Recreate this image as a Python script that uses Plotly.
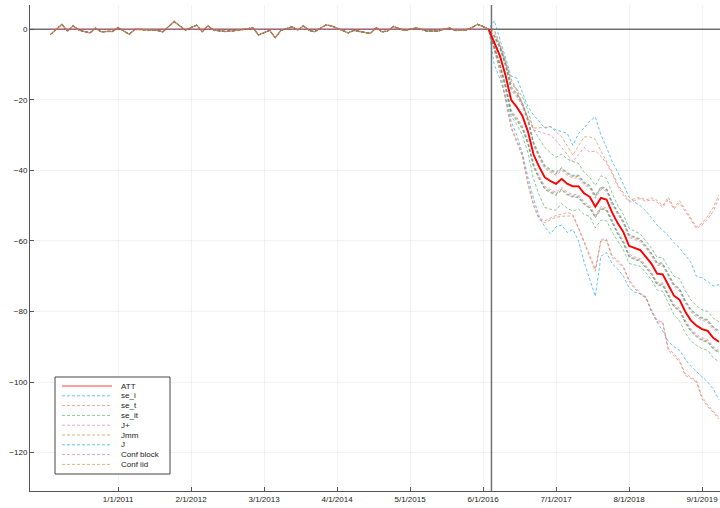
import plotly.graph_objects as go

# ---------------- data ----------------
months = list(range(1, 121))          # monthly periods, Jan 2010 .. Dec 2019
treat_x = 79.5
tick_idx = [13, 26, 39, 52, 65, 78, 91, 104, 117]
tick_labels = ["1/1/2011", "2/1/2012", "3/1/2013", "4/1/2014", "5/1/2015",
               "6/1/2016", "7/1/2017", "8/1/2018", "9/1/2019"]
y_ticks = [0, -20, -40, -60, -80, -100, -120]
y_tick_labels = ["0", "\u221220", "\u221240", "\u221260", "\u221280", "\u2212100", "\u2212120"]

att_pre = [-1.4, 0.0, 1.4, -0.5, 1.0, -0.2, -0.5, -1.0, 0.3, -0.7,
           -0.6, -0.6, 0.5, -0.4, -1.4, 0.0, 0.0, -0.1, -0.2, -0.3,
           -0.7, 0.8, 2.2, 1.0, -0.2, 0.5, 1.2, -0.7, 1.0, -0.2,
           -0.5, -0.6, -0.5, -0.4, -0.1, 0.1, 0.5, -1.6, -1.0, -0.3,
           -2.4, -0.3, 0.2, 0.7, -0.2, 1.0, -0.3, -0.7, 0.3, 1.2,
           1.0, 0.4, -0.3, -1.0, -0.3, -0.7, -0.9, -1.1, 0.5, -0.7,
           -0.5, 0.8, 0.2, -0.3, 0.0, 0.4, 0.0, -0.5, -0.5, -0.5,
           0.0, 0.4, -0.3, -0.2, -0.2, 0.5, 1.4, 0.8, 0.0]

att_post = [-3.5, -7.5, -13.0, -20.0, -22.0, -24.5, -29.0, -35.5, -39.0, -42.0,
            -43.0, -43.8, -42.4, -43.8, -44.5, -44.5, -46.5, -47.5, -50.3, -47.8,
            -48.3, -52.0, -55.0, -57.5, -61.4, -62.0, -62.6, -64.5, -66.5, -69.3,
            -69.5, -72.5, -75.5, -76.7, -80.0, -82.5, -84.0, -85.0, -85.5, -87.5,
            -88.6]

se_i_up = [2.5, -3.0, -8.0, -13.3, -13.8, -18.0, -21.9, -24.3, -26.0, -28.0,
           -27.6, -28.5, -29.0, -29.5, -32.9, -29.5, -28.0, -26.0, -24.8, -30.0,
           -33.5, -37.5, -40.5, -44.0, -47.5, -49.0, -50.0, -51.5, -53.5, -55.5,
           -57.0, -58.5, -60.5, -62.0, -64.0, -66.0, -70.0, -70.5, -71.5, -72.8,
           -72.4]
se_i_lo = [-10.0, -14.0, -19.0, -26.0, -30.0, -35.0, -42.0, -48.0, -53.0, -56.0,
           -58.0, -56.0, -55.5, -57.6, -56.7, -60.0, -66.0, -71.0, -75.7, -64.3,
           -63.3, -66.5, -68.0, -70.0, -73.3, -74.5, -75.0, -76.0, -80.0, -83.0,
           -85.5, -88.5, -90.0, -91.0, -93.5, -95.5, -97.0, -98.5, -100.0, -102.0,
           -105.0]

conf_block_pre = [0.0] * 79
conf_iid_up = [0.0, -4.0, -9.0, -14.0, -17.0, -21.0, -25.0, -28.0, -28.0, -27.8,
               -27.6, -29.0, -30.5, -33.0, -35.7, -33.0, -30.5, -30.5, -31.2, -34.5,
               -37.5, -40.5, -44.0, -46.5, -48.6, -48.0, -47.6, -48.4, -47.8, -48.5,
               -50.0, -47.6, -50.5, -48.6, -51.0, -53.5, -56.0, -55.0, -53.0, -50.5,
               -47.0]
conf_iid_lo = [-6.0, -12.0, -20.0, -28.0, -32.0, -36.0, -44.0, -50.0, -54.0, -54.8,
               -54.0, -53.3, -53.0, -52.9, -52.9, -56.5, -60.5, -64.5, -68.6, -60.0,
               -59.8, -64.8, -66.0, -67.6, -71.4, -73.5, -75.2, -76.2, -80.0, -82.9,
               -83.3, -91.0, -92.5, -94.3, -98.1, -99.0, -100.0, -104.8, -107.0, -108.6,
               -110.5]
conf_block_up = [-0.5, -4.5, -9.5, -14.5, -17.5, -21.5, -25.5, -28.5, -29.0, -29.5,
                 -30.0, -31.5, -33.5, -35.5, -37.5, -35.5, -33.5, -34.8, -34.5, -36.0,
                 -38.0, -41.0, -44.5, -47.0, -49.0, -48.5, -48.0, -48.8, -48.3, -49.0,
                 -50.5, -48.2, -51.0, -49.2, -51.5, -54.0, -56.5, -55.5, -53.8, -51.5,
                 -48.0]
conf_block_lo = [-5.5, -11.5, -19.5, -27.5, -31.5, -35.5, -43.5, -49.5, -53.5, -54.3,
                 -53.5, -52.8, -52.4, -51.9, -52.5, -56.0, -60.0, -64.0, -68.0, -59.5,
                 -59.5, -64.3, -65.5, -67.2, -71.0, -73.0, -74.8, -75.8, -79.5, -82.5,
                 -83.0, -90.5, -92.0, -93.8, -97.6, -98.6, -99.6, -104.2, -106.5, -108.2,
                 -110.0]

se_t_hw = [1.5, 2.5, 3.0, 3.5, 3.6, 3.5, 3.4, 3.3, 3.2, 3.2,
           3.1, 3.0, 3.0, 3.0, 2.9, 3.0, 3.0, 3.1, 3.0, 3.0,
           3.0, 2.9, 3.0, 3.0, 3.0, 3.1, 3.0, 3.0, 2.9, 3.0,
           3.0, 3.0, 3.1, 3.0, 3.0, 3.0, 3.0, 3.1, 3.0, 3.0, 3.0]
se_it_hw = [2.0, 3.0, 4.0, 4.5, 5.0, 5.5, 6.0, 7.0, 8.0, 8.5,
            8.0, 7.5, 7.0, 7.0, 7.0, 6.5, 6.0, 5.5, 6.0, 6.3,
            6.0, 5.5, 5.0, 5.0, 5.0, 4.8, 4.6, 4.5, 4.5, 4.6,
            4.8, 5.0, 5.5, 6.0, 6.0, 5.8, 5.6, 5.5, 5.5, 5.6, 5.7]
jplus_hw = [1.2, 2.0, 2.4, 2.8, 2.9, 2.8, 2.7, 2.6, 2.5, 2.5,
            2.4, 2.4, 2.4, 2.4, 2.3, 2.4, 2.4, 2.5, 2.4, 2.4,
            2.4, 2.3, 2.4, 2.4, 2.4, 2.5, 2.4, 2.4, 2.3, 2.4,
            2.4, 2.4, 2.5, 2.4, 2.4, 2.4, 2.4, 2.5, 2.4, 2.4, 2.4]
jmm_hw = [1.4, 2.3, 2.8, 3.2, 3.3, 3.2, 3.1, 3.0, 2.9, 2.9,
          2.8, 2.8, 2.8, 2.8, 2.7, 2.8, 2.8, 2.9, 2.8, 2.8,
          2.8, 2.7, 2.8, 2.8, 2.8, 2.9, 2.8, 2.8, 2.7, 2.8,
          2.8, 2.8, 2.9, 2.8, 2.8, 2.8, 2.8, 2.9, 2.8, 2.8, 2.8]
j_hw = [1.7, 2.7, 3.3, 3.8, 3.9, 3.8, 3.7, 3.6, 3.5, 3.4,
        3.3, 3.3, 3.2, 3.2, 3.1, 3.2, 3.2, 3.3, 3.2, 3.2,
        3.2, 3.1, 3.2, 3.2, 3.2, 3.3, 3.2, 3.2, 3.1, 3.2,
        3.2, 3.2, 3.3, 3.2, 3.2, 3.2, 3.2, 3.3, 3.2, 3.2, 3.2]

legend_names = ["ATT", "se_i", "se_t", "se_it", "J+", "Jmm", "J", "Conf block", "Conf iid"]
colors = {"ATT": "rgba(255,0,0,0.5)",
          "se_i": "rgba(0,154,250,0.6)",
          "se_t": "rgba(227,111,71,0.6)",
          "se_it": "rgba(62,164,78,0.6)",
          "J+": "rgba(194,113,210,0.6)",
          "Jmm": "rgba(172,142,24,0.6)",
          "J": "rgba(0,169,173,0.6)",
          "Conf block": "rgba(237,94,147,0.6)",
          "Conf iid": "rgba(198,130,37,0.6)"}

# ---------------- build ----------------
att_full = att_pre + att_post
post_x = months[len(att_pre):]
zero_pre = [0.0] * len(att_pre)


def sym_band(hw):
    h = zero_pre + hw
    return ([a + d for a, d in zip(att_full, h)], [a - d for a, d in zip(att_full, h)])


bands = {
    "se_i": (att_pre + se_i_up, att_pre + se_i_lo),
    "se_t": sym_band(se_t_hw),
    "se_it": sym_band(se_it_hw),
    "J+": sym_band(jplus_hw),
    "Jmm": sym_band(jmm_hw),
    "J": sym_band(j_hw),
    "Conf block": (conf_block_pre + conf_block_up, conf_block_pre + conf_block_lo),
    "Conf iid": (att_pre + conf_iid_up, att_pre + conf_iid_lo),
}

DASH = "3px,2px"
fig = go.Figure()
fig.add_trace(go.Scatter(x=months, y=att_full, mode="lines", name="ATT",
                         line=dict(color=colors["ATT"], width=1.5), showlegend=False))
for name in legend_names[1:]:
    up, lo = bands[name]
    for arr in (up, lo):
        fig.add_trace(go.Scatter(x=months, y=arr, mode="lines", name=name,
                                 line=dict(color=colors[name], width=1, dash=DASH),
                                 showlegend=False, hoverinfo="skip"))
fig.add_trace(go.Scatter(x=[months[len(att_pre) - 1]] + post_x,
                         y=[att_pre[-1]] + att_post, mode="lines",
                         line=dict(color="#ff0000", width=1.8), showlegend=False))

# reference lines
fig.add_hline(y=0, line=dict(color="rgba(90,90,90,0.85)", width=1.5), layer="below")
fig.add_vline(x=treat_x, line=dict(color="rgba(90,90,90,0.85)", width=1.5), layer="below")

# manual legend (GR-style compact box)
W, H = 720, 508
ML, MR, MT, MB = 30, 0, 5, 17
pw, ph = W - ML - MR, H - MT - MB


def px(x):
    return (x - ML) / pw


def py(y):
    return (H - MB - y) / ph


fig.add_shape(type="rect", xref="paper", yref="paper",
              x0=px(55), x1=px(170), y0=py(474), y1=py(377),
              line=dict(color="#444", width=1), fillcolor="white", layer="above")
for i, name in enumerate(legend_names):
    yy = 386 + i * 9.8
    fig.add_shape(type="line", xref="paper", yref="paper",
                  x0=px(62), x1=px(112), y0=py(yy), y1=py(yy), layer="above",
                  line=dict(color=colors[name], width=1.5 if name == "ATT" else 1,
                            dash="solid" if name == "ATT" else DASH))
    fig.add_annotation(xref="paper", yref="paper", x=px(119), y=py(yy), text=name,
                       showarrow=False, xanchor="left", yanchor="middle",
                       font=dict(size=8, color="#222", family="Liberation Sans"))

axis_common = dict(showline=True, linecolor="#555", linewidth=1, ticks="inside",
                   ticklen=4, tickcolor="#555", showgrid=True,
                   gridcolor="rgba(0,0,0,0.05)", gridwidth=1, zeroline=False,
                   tickfont=dict(size=8, color="#222", family="Liberation Sans"))
fig.update_xaxes(range=[-2.68, 120.2], tickvals=tick_idx, ticktext=tick_labels, **axis_common)
fig.update_yaxes(range=[-130.9, 6.9], tickvals=y_ticks, ticktext=y_tick_labels, **axis_common)

fig.update_layout(width=W, height=H, margin=dict(l=ML, r=MR, t=MT, b=MB),
                  plot_bgcolor="white", paper_bgcolor="white", showlegend=False)

fig.write_html("out.html")
